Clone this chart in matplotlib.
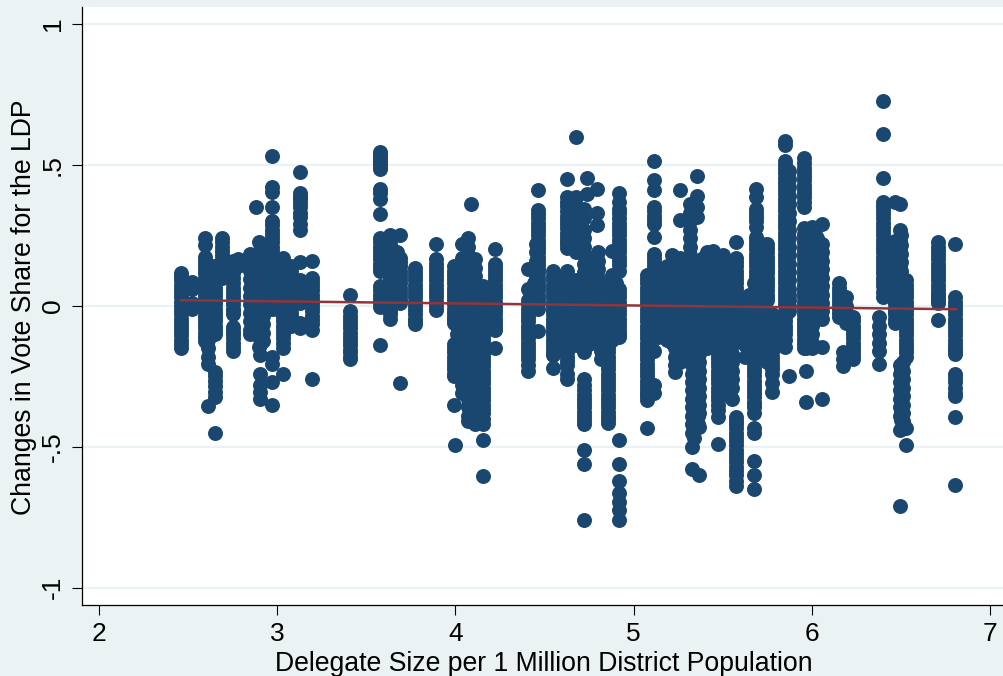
import matplotlib
matplotlib.use('Agg')
import matplotlib.pyplot as plt

plt.rcParams['font.family'] = ['Liberation Sans', 'DejaVu Sans']

navy = '#1a476f'
maroon = '#90353b'
bg = '#eaf2f3'

# columns of points, x value first then the y values
left_x = [2.46, 2.525, 2.595, 2.61, 2.65, 2.69, 2.75, 2.78, 2.85, 2.88, 2.90, 2.905, 2.95, 2.97, 3.035, 3.08, 3.13, 3.195]
left_y = [
    [.115, .09, .06, .03, 0, -.03, -.06, -.09, -.12, -.15],
    [.085, .06, .01, -.01],
    [.24, .215, .175, .145, .115, .085, .055, .025, -.005, -.035, -.065, -.095, -.125],
    [-.09, -.12, -.15, -.18, -.205, -.355],
    [.14, .11, .08, .05, .02, -.01, -.04, -.07, -.10, -.235, -.265, -.305, -.325, -.45],
    [.24, .21, .18, .15, .12, .10],
    [.16, .13, .10, .08, .05, .02, -.01, -.03, -.075, -.10, -.13, -.16],
    [.165, .14],
    [.185, .155, .125, .095, .065, .035, .005, -.025, -.055, -.085, -.10],
    [.35],
    [.225, .19, .16, .13, .10, .07, .04, .01, -.02, -.05, -.08, -.11, -.145],
    [-.175, -.24, -.28, -.305, -.33],
    [.19, .16, .13, .10, .07, .04, .01, -.01],
    [.53, .42, .405, .35, .30, .27, .24, .21, .18, .15, .12, .09, .06, .03, 0, -.01, -.18, -.205, -.27, -.35],
    [.17, .14, .11, .08, .05, .02, -.01, -.04, -.07, -.10, -.13, -.15, -.24],
    [.14, .11, .08, .05, .02, -.01, -.04, -.07],
    [.475, .40, .38, .35, .315, .27, .155, .09, .06, .03, .01, -.06, -.08],
    [.16, .10, .07, .04, .01, -.02, -.05, -.085, -.26],
]

middle_x = [3.41, 3.577, 3.635, 3.67, 3.69, 3.775, 3.89, 3.99, 4.0, 4.01, 4.035, 4.07, 4.09, 4.11, 4.155, 4.225]
middle_y = [
    [.04, -.02, -.05, -.08, -.11, -.14, -.165, -.19],
    [.545, .525, .505, .485, .415, .38, .325, .24, .21, .18, .15, .125, .07, .04, .01, -.005, -.14],
    [.25, .22, .19, .16, .13, .10, .07, .04, .01, -.02, -.045],
    [.19, .16, .13, .10, .07, .04, .015],
    [.25, .17, .14, .11, .08, .05, .02, .01, -.275],
    [.135, .105, .075, .045, .015, -.015, -.045, -.065],
    [.22, .165, .135, .105, .075, .045, .015, -.015],
    [.14, .11, .08, .05, .02, -.01, -.04, -.06, -.135, -.165, -.195, -.225, -.25, -.35],
    [-.495],
    [-.07, -.10, -.13],
    [.22, .17, .14, .11, .08, .05, .02, -.01, -.04, -.07, -.10, -.13, -.16, -.19, -.22, -.25, -.28, -.31],
    [.24, .21, .18, .15, .12, .09, .06, .03, 0, -.03, -.06, -.09, -.12, -.15, -.18, -.21, -.24, -.27, -.30, -.33, -.36, -.39, -.41],
    [.36],
    [.165, .135, .105, .075, .045, .015, -.015, -.045, -.075, -.105, -.135, -.165, -.195, -.225, -.255, -.285, -.315, -.345, -.375, -.42],
    [.07, .04, .01, -.02, -.05, -.08, -.11, -.14, -.17, -.20, -.23, -.26, -.29, -.32, -.35, -.38, -.42, -.475, -.605],
    [.20, .15, .12, .09, .06, .03, 0, -.03, -.06, -.087, -.15],
]

centre_x = [4.41, 4.44, 4.45, 4.465, 4.55, 4.625, 4.675, 4.72, 4.74, 4.76, 4.795, 4.80, 4.82, 4.855, 4.88, 4.92]
centre_y = [
    [.13, .06, .02, -.01, -.04, -.07, -.10, -.13, -.16, -.19, -.23],
    [.08, .05, .02],
    [.22, .19, .16, .13, .10, .07],
    [.41, .34, .31, .28, .25, .22, .19, .16, .13, .10, .07, .04, .01, -.01, -.09],
    [.125, .09, .06, .03, 0, -.03, -.06, -.09, -.12, -.15, -.175, -.22],
    [.45, .385, .355, .32, .29, .26, .23, .205, .125, .09, .06, .03, 0, -.03, -.06, -.09, -.12, -.15, -.18, -.21, -.26],
    [.60, .385, .355, .325, .295, .265, .235, .205, .19, .09, .06, .03, 0, -.03, -.06, -.09, -.12, -.14],
    [.345, .31, .27, .24, .21, .18, .15, .12, .09, .06, .03, 0, -.03, -.06, -.09, -.12, -.165, -.26, -.30, -.33, -.36, -.39, -.42, -.51, -.56, -.76],
    [.455, .395],
    [.17, .14, .11, .08, .05, .02, -.01, -.04, -.07, -.10],
    [.415, .33, .285],
    [.19, .16, .13, .10, .07, .04, .01, -.02, -.05, -.08, -.11, -.13],
    [-.13, -.16, -.19],
    [.06, .03, 0, -.03, -.06, -.09, -.12, -.15, -.18, -.21, -.24, -.27, -.30, -.33, -.36, -.39, -.415],
    [.195, .11, .08, .05, .02, -.01, -.04, -.07, -.10, -.12],
    [.40, .37, .345, .31, .28, .25, .22, .19, .16, .125, .06, .03, 0, -.03, -.06, -.09, -.11, -.475, -.56, -.62, -.665, -.695, -.725, -.76],
]

dense_x = [5.075, 5.115, 5.16, 5.215, 5.23, 5.26, 5.315, 5.33, 5.355, 5.37, 5.41, 5.445, 5.475, 5.50, 5.52, 5.555, 5.575]
dense_y = [
    [.11, .08, .05, .02, -.01, -.04, -.07, -.10, -.13, -.16, -.19, -.22, -.25, -.28, -.31, -.335, -.435],
    [.515, .445, .41, .35, .32, .29, .245, .185, .155, .125, .095, .065, .035, .005, -.025, -.055, -.085, -.11, -.16, -.28, -.31],
    [.12, .09, .06, .03, 0, -.03, -.06, -.10],
    [.18, .15, .12, .09, .06, .03, 0, -.03, -.06, -.09, -.13],
    [-.15, -.18, -.21, -.235],
    [.41, .305, .17, .14, .11, .08, .05, .02, -.01, -.04, -.07, -.10, -.13, -.16, -.20],
    [.36, .33, .30, .27, .24, .21, .18, .15, .12, .09, .06, .03, 0, -.03],
    [-.06, -.09, -.12, -.15, -.18, -.21, -.24, -.27, -.30, -.33, -.36, -.39, -.42, -.45, -.50, -.58],
    [.46, .39, .35, .315],
    [.16, .13, .10, .07, .04, .01, -.02, -.05, -.08, -.11, -.14, -.17, -.20, -.23, -.26, -.29, -.32, -.35, -.38, -.43, -.60],
    [.19, .16, .13, .10, .07, .04, .01, -.02, -.05, -.08, -.11, -.15],
    [.195, .165, .135, .105, .075, .045, .015, -.015, -.045, -.075, -.12],
    [.16, .13, .10, .07, .04, .01, -.02, -.05, -.08, -.11, -.14, -.17, -.20, -.23, -.26, -.29, -.32, -.35, -.395, -.49],
    [.18, .15, .12, .09, .06, .03, 0, -.03, -.06, -.09, -.13],
    [.12, .09, .06, .03, 0, -.03, -.06, -.09, -.12, -.15, -.18, -.21, -.24, -.27, -.30],
    [-.05, -.08, -.11, -.14, -.17, -.20, -.23, -.26, -.29, -.33],
    [.225, .17, .14, .11, .08, .05, .02, -.01, -.04, -.07, -.11, -.395, -.42, -.45, -.48, -.51, -.54, -.57, -.60, -.64],
]

right_x = [5.625, 5.675, 5.69, 5.75, 5.775, 5.85, 5.875, 5.955, 5.97, 6.0, 6.03, 6.06, 6.155, 6.19, 6.175, 6.23]
right_y = [
    [.02, -.02, -.06, -.10, -.14, -.18],
    [.08, .05, .02, -.01, -.04, -.07, -.10, -.13, -.16, -.19, -.22, -.25, -.28, -.31, -.34, -.36, -.38, -.435, -.45, -.55, -.60, -.65],
    [.415, .385, .345, .315, .28, .245, .215, .185, .155, .125, .095, .065, .035, .02],
    [.22, .19, .16, .13, .10, .07, .04, .02, -.02, -.05, -.08, -.11, -.14, -.17, -.20],
    [-.03, -.06, -.09, -.12, -.15, -.18, -.21, -.24, -.275, -.305],
    [.585, .57, .515, .485, .455, .425, .395, .365, .335, .305, .275, .245, .215, .185, .155, .125, .095, .065, .035, .005, -.04, -.07, -.10, -.145],
    [.48, .42, .36, .30, .24, .18, .12, .06, .02, -.02, -.25],
    [.525, .49, .46, .43, .40, .37, .35, .275, .24, .21, .18, .15, .12, .09, .06, .03, 0, -.03, -.06, -.09, -.12, -.15],
    [.24, .21, .18, .15, .12, .09, .06, .03, 0, -.03, -.06, -.09, -.12, -.15, -.23, -.34],
    [.28, .23, .20, .17, .14, .11, .08, .05, .02, -.01, -.04, -.07, -.10, -.13, -.15],
    [.24, .21, .18, .15, .12, .09, .06, .03, 0, -.03, -.045],
    [.29, .22, .19, .16, .13, .10, .07, .04, .01, -.02, -.045, -.145, -.33],
    [.08, .05, .02, -.01, -.04],
    [.03, 0, -.03, -.06],
    [-.165, -.19, -.215],
    [-.04, -.07, -.10, -.13, -.16, -.19],
]

far_x = [6.38, 6.40, 6.465, 6.495, 6.51, 6.53, 6.71, 6.805]
far_y = [
    [-.04, -.07, -.10, -.13, -.16, -.205],
    [.725, .61, .455, .37, .34, .31, .28, .25, .22, .19, .16, .13, .10, .07, .03],
    [.37, .23, .20, .17, .14, .11, .08, .05, .02, -.01, -.03, -.06],
    [.36, .27, .23, .20, .17, .14, .11, .08, .05, -.21, -.24, -.27, -.30, -.33, -.36, -.39, -.44, -.71],
    [-.20, -.23, -.26, -.29, -.32, -.35, -.38, -.41],
    [.09, .06, .03, 0, -.03, -.06, -.09, -.12, -.15, -.18, -.435, -.495],
    [.225, .195, .165, .135, .105, .075, .045, .03, .01, -.05],
    [.22, .03, 0, -.03, -.06, -.09, -.12, -.15, -.17, -.24, -.27, -.31, -.32, -.395, -.635],
]

# more points between the ones above, the columns are nearly solid in the picture
more_left_x = [2.46, 2.595, 2.62, 2.65, 2.69, 2.75, 2.87, 2.92, 2.97, 3.0, 3.035, 3.08, 3.13, 3.195]
more_left_y = [
    [.105, .075, .045, .015, -.015, -.045, -.075, -.105, -.135],
    [.16, .13, .10, .07, .04, .01, -.02, -.05, -.08, -.11],
    [.145, .115, .085, .055, .025, -.005, -.035, -.065],
    [.125, .095, .065, .035, .005, -.025, -.055, -.085, -.25, -.285],
    [.225, .195, .165, .135],
    [.145, .115, .065, .035, .005, -.02, -.09, -.115, -.145],
    [.17, .14, .11, .08, .05, .02, -.01, -.04, -.07],
    [.205, .175, .145, .115, .085, .055, .025, -.005, -.035, -.065, -.095, -.125],
    [.285, .255, .225, .195, .165, .135, .105, .075, .045, .015],
    [.14, .11, .08, .05, .02, -.01],
    [.155, .125, .095, .065, .035, .005, -.025, -.055, -.085, -.115],
    [.125, .095, .065, .035, .005, -.025, -.055],
    [.385, .365, .33, .29, .075, .045, .02],
    [.085, .055, .025, -.005, -.035, -.065],
]

more_middle_x = [3.41, 3.577, 3.60, 3.635, 3.69, 3.775, 3.89, 3.99, 4.05, 4.09, 4.13, 4.155, 4.225]
more_middle_y = [
    [-.035, -.065, -.095, -.125, -.155, -.18],
    [.535, .515, .495, .40, .225, .195, .165, .135, .055, .025],
    [.22, .19, .16, .13],
    [.235, .205, .175, .145, .115, .085, .055, .025, -.005, -.03],
    [.155, .125, .095, .065, .035],
    [.12, .09, .06, .03, 0, -.03, -.055],
    [.15, .12, .09, .06, .03, 0],
    [.125, .095, .065, .035, .005, -.025, -.05, -.15, -.18, -.21, -.24],
    [.15, .12, .09, .06, .03, 0, -.03, -.06, -.09, -.12, -.15, -.18, -.21, -.24],
    [.15, .12, .09, .06, .03, 0, -.03, -.06, -.09, -.12, -.15, -.18, -.21, -.24, -.27, -.30, -.33, -.36, -.39],
    [.06, .03, 0, -.03, -.06, -.09, -.12, -.15, -.18, -.21, -.24, -.27, -.30, -.33, -.36, -.40],
    [.055, .025, -.005, -.035, -.065, -.095, -.125, -.155, -.185, -.215, -.245, -.275, -.305, -.335, -.365, -.40],
    [.135, .105, .075, .045, .015, -.015, -.045, -.075],
]

more_centre_x = [4.41, 4.465, 4.55, 4.60, 4.625, 4.65, 4.70, 4.72, 4.75, 4.83, 4.855, 4.90, 4.92]
more_centre_y = [
    [.005, -.025, -.055, -.085, -.115, -.145, -.175, -.21],
    [.325, .295, .265, .235, .205, .175, .145, .115, .085, .055, .025],
    [.105, .075, .045, .015, -.015, -.045, -.075, -.105, -.135, -.165],
    [.10, .07, .04, .01, -.02, -.05, -.08, -.11, -.14],
    [.37, .335, .305, .275, .245, .22, .105, .075, .045, .015, -.015, -.045, -.075, -.105, -.135, -.165, -.195, -.24],
    [.37, .34, .31, .28, .25, .22],
    [.08, .05, .02, -.01, -.04, -.07, -.10, -.13],
    [-.28, -.315, -.345, -.375, -.405],
    [.075, .045, .015, -.015, -.045, -.075, -.105, -.135],
    [.075, .045, .015, -.015, -.045, -.075, -.115],
    [.045, .015, -.015, -.045, -.075, -.105, -.135, -.165, -.195, -.225, -.255, -.285, -.315, -.345, -.375, -.40],
    [.08, .05, .02, -.01, -.04, -.07, -.10],
    [.33, .295, .265, .235, .205, .175, .145, .045, .015, -.015, -.045, -.075, -.10],
]

more_dense_x = [5.075, 5.115, 5.14, 5.19, 5.24, 5.29, 5.34, 5.36, 5.39, 5.43, 5.46, 5.475, 5.50, 5.54, 5.575]
more_dense_y = [
    [.095, .065, .035, .005, -.025, -.055, -.085, -.115, -.145, -.175, -.205, -.235, -.265, -.295, -.32],
    [.335, .305, .17, .14, .11, .08, .05, .02, -.01, -.04, -.07, -.10],
    [.13, .10, .07, .04, .01, -.02, -.05, -.08, -.11],
    [.14, .11, .08, .05, .02, -.01, -.04, -.07, -.10, -.12],
    [.15, .12, .09, .06, .03, 0, -.03, -.06, -.09, -.12, -.15],
    [.16, .13, .10, .07, .04, .01, -.02, -.05, -.08, -.11, -.14, -.16],
    [.15, .12, .09, .06, .03, 0, -.03, -.075, -.105, -.135, -.165, -.195, -.225, -.255, -.285, -.315, -.345, -.375, -.405, -.435, -.47],
    [-.15, -.18, -.21, -.24, -.27, -.30, -.33, -.36, -.39, -.42],
    [.17, .14, .11, .08, .05, .02, -.01, -.04, -.07, -.10, -.13],
    [.17, .14, .11, .08, .05, .02, -.01, -.04, -.07, -.10, -.13],
    [.15, .12, .09, .06, .03, 0, -.03, -.06, -.09, -.12],
    [-.155, -.185, -.215, -.245, -.275, -.305, -.335, -.37],
    [.165, .135, .105, .075, .045, .015, -.015, -.045, -.075, -.11],
    [.13, .10, .07, .04, .01, -.02, -.05, -.08, -.11, -.14],
    [.155, .125, .095, .065, .035, .005, -.025, -.055, -.09, -.41, -.435, -.465, -.495, -.525, -.555, -.585, -.62],
]

more_right_x = [5.65, 5.675, 5.69, 5.72, 5.75, 5.775, 5.85, 5.875, 5.955, 5.99, 6.02, 6.05, 6.155, 6.23, 6.40, 6.465, 6.50, 6.53, 6.71, 6.805]
more_right_y = [
    [.04, .01, -.02, -.05, -.08, -.11, -.14, -.16],
    [-.205, -.235, -.265, -.295, -.325, -.35],
    [.33, .30, .23, .20, .17, .14, .11, .08, .05],
    [.22, .19, .16, .13, .10, .07, .04, .01, -.02, -.05, -.08],
    [.205, .175, .145, .115, .085, .055, .03, -.035, -.065, -.095, -.125, -.155, -.185],
    [-.045, -.075, -.105, -.135, -.165, -.195, -.225],
    [.50, .47, .44, .41, .38, .35, .32, .29, .26, .23, .20, .17, .14, .11, .08, .05, .02, -.02, -.055, -.085, -.12],
    [.45, .39, .33, .27, .21, .15, .09, .04, 0],
    [.505, .475, .445, .415, .385, .255, .225, .195, .165, .135, .105, .075, .045, .015, -.015, -.045, -.075, -.105, -.135],
    [.26, .225, .195, .165, .135, .105, .075, .045, .015, -.015, -.045, -.075, -.105, -.14],
    [.255, .225, .195, .165, .135, .105, .075, .045, .015, -.015, -.04],
    [.205, .175, .145, .115, .085, .055, .025, -.005, -.03],
    [.065, .035, .005, -.025],
    [-.055, -.085, -.115, -.145, -.175],
    [.355, .325, .295, .265, .235, .205, .175, .145, .115, .085, .05],
    [.215, .185, .155, .125, .095, .065, .035, .005, -.02, -.045],
    [.25, .215, .185, .155, .125, .095, .065, .035, -.225, -.255, -.285, -.315, -.345, -.375, -.405],
    [.075, .045, .015, -.015, -.045, -.075, -.105, -.135, -.165],
    [.21, .18, .15, .12, .09, .06, .035, .02],
    [.015, -.015, -.045, -.075, -.105, -.135, -.16, -.255, -.29],
]

fit_x = [2.46, 6.81]
fit_y = [.02, -.012]

xs = []
ys = []
for col_x, col_y in [(left_x, left_y), (middle_x, middle_y), (centre_x, centre_y),
                     (dense_x, dense_y), (right_x, right_y), (far_x, far_y),
                     (more_left_x, more_left_y), (more_middle_x, more_middle_y),
                     (more_centre_x, more_centre_y), (more_dense_x, more_dense_y),
                     (more_right_x, more_right_y)]:
    for x, vals in zip(col_x, col_y):
        xs += [x] * len(vals)
        ys += vals

x_ticks = [2, 3, 4, 5, 6, 7]
y_ticks = [-1, -.5, 0, .5, 1]
y_tick_labels = ['-1', '-.5', '0', '.5', '1']

fig = plt.figure(figsize=(10.04, 6.76), dpi=100, facecolor=bg)
ax = fig.add_axes([82/1004, (676-604.7)/676, 1-82/1004, (604.7-7)/676])

ax.scatter(xs, ys, s=116, color=navy, linewidths=0, zorder=3, clip_on=False)
ax.plot(fit_x, fit_y, color=maroon, lw=1.8, zorder=4)

ax.set_xlim(1.905, 7.079)
ax.set_ylim(-1.06, 1.06)
ax.set_xticks(x_ticks)
ax.set_yticks(y_ticks)
ax.set_yticklabels(y_tick_labels, rotation=90, va='center')
ax.grid(True, axis='y', color=bg, lw=1.6, zorder=1)
ax.set_axisbelow(True)

ax.spines['top'].set_visible(False)
ax.spines['right'].set_visible(False)
ax.spines['left'].set_linewidth(0.9)
ax.spines['bottom'].set_linewidth(0.9)
ax.tick_params(axis='x', length=7.2, width=0.8, labelsize=19, pad=5.5)
ax.tick_params(axis='y', length=7.2, width=0.8, labelsize=19, pad=5)

fig.text(544/1004, 1-664/676, 'Delegate Size per 1 Million District Population',
         ha='center', va='center', fontsize=19.2)
fig.text(24.5/1004, 1-307/676, 'Changes in Vote Share for the LDP',
         ha='center', va='center', rotation=90, fontsize=19.2)

fig.savefig('out.png', dpi=100, facecolor=bg)
